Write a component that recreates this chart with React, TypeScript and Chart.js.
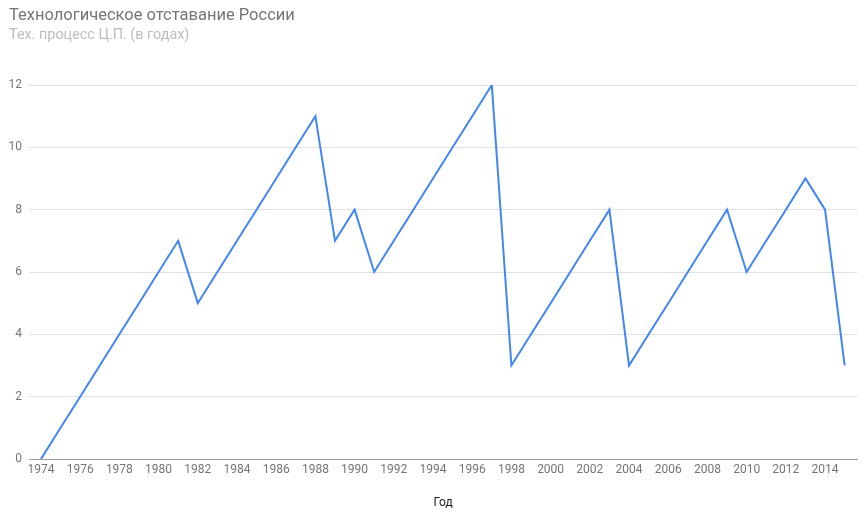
import React, { useEffect, useRef } from "react";
import { Chart, registerables } from "chart.js";

Chart.register(...registerables);

const titleText = "Технологическое отставание России";
const subtitleText = "Тех. процесс Ц.П. (в годах)";
const xAxisTitle = "Год";
const years = [
  1974, 1975, 1976, 1977, 1978, 1979, 1980, 1981, 1982, 1983, 1984, 1985, 1986, 1987,
  1988, 1989, 1990, 1991, 1992, 1993, 1994, 1995, 1996, 1997, 1998, 1999, 2000, 2001,
  2002, 2003, 2004, 2005, 2006, 2007, 2008, 2009, 2010, 2011, 2012, 2013, 2014, 2015,
];
const lag = [
  0, 1, 2, 3, 4, 5, 6, 7, 5, 6, 7, 8, 9, 10,
  11, 7, 8, 6, 7, 8, 9, 10, 11, 12, 3, 4, 5, 6,
  7, 8, 3, 4, 5, 6, 7, 8, 6, 7, 8, 9, 8, 3,
];
const xTicks = [1974, 1976, 1978, 1980, 1982, 1984, 1986, 1988, 1990, 1992, 1994, 1996, 1998, 2000, 2002, 2004, 2006, 2008, 2010, 2012, 2014];
const yTicks = [0, 2, 4, 6, 8, 10, 12];

const FONT = "Roboto, 'Noto Sans', Arial, sans-serif";

const headerPlugin = {
  id: "header",
  afterDraw(chart: any) {
    const ctx = chart.ctx;
    ctx.save();
    ctx.textAlign = "left";
    ctx.textBaseline = "middle";
    ctx.fillStyle = "#757575";
    ctx.font = `16.5px ${FONT}`;
    ctx.fillText(titleText, 9, 16);
    ctx.fillStyle = "#bdbdbd";
    ctx.font = `14.4px ${FONT}`;
    ctx.fillText(subtitleText, 9, 35);
    ctx.restore();
  },
};

export default function App() {
  const ref = useRef<HTMLCanvasElement>(null);
  useEffect(() => {
    if (!ref.current) return;
    const chart = new Chart(ref.current, {
      type: "line",
      data: {
        datasets: [
          {
            data: years.map((y, i) => ({ x: y, y: lag[i] })),
            borderColor: "#4285f4",
            backgroundColor: "#4285f4",
            borderWidth: 2,
            pointRadius: 0,
            tension: 0,
          },
        ],
      },
      options: {
        animation: false,
        responsive: false,
        devicePixelRatio: 1,
        layout: { padding: { top: 85, right: 7, left: 0, bottom: 0 } },
        plugins: { legend: { display: false }, tooltip: { enabled: false }, title: { display: false } },
        scales: {
          x: {
            type: "linear",
            min: 1973.39,
            max: 2015.63,
            grid: { display: false, drawTicks: false },
            border: { display: true, color: "#9e9e9e", width: 1 },
            afterBuildTicks(scale: any) {
              scale.ticks = xTicks.map((v) => ({ value: v }));
            },
            afterFit(scale: any) {
              scale.height = 55;
            },
            ticks: {
              color: "#757575",
              font: { family: FONT, size: 12 },
              padding: 4,
              maxRotation: 0,
              autoSkip: false,
              callback: (v: any) => String(v),
            },
            title: {
              display: true,
              text: xAxisTitle,
              color: "#222222",
              font: { family: FONT, size: 12 },
              padding: { top: 0, bottom: 4 },
            },
          },
          y: {
            min: 0,
            max: 12,
            afterBuildTicks(scale: any) {
              scale.ticks = yTicks.map((v) => ({ value: v }));
            },
            afterFit(scale: any) {
              scale.width = 29;
            },
            grid: {
              color: (c: any) => (c.tick && c.tick.value === 0 ? "#9e9e9e" : "#e0e0e0"),
              drawTicks: false,
            },
            border: { display: false },
            ticks: {
              color: "#757575",
              font: { family: FONT, size: 12 },
              padding: 7,
            },
          },
        },
      },
      plugins: [headerPlugin],
    });
    return () => chart.destroy();
  }, []);
  return (
    <div style={{ position: "fixed", left: 0, top: 0, width: 864, height: 514, background: "#fff" }}>
      <canvas ref={ref} width={864} height={514} style={{ width: 864, height: 514 }} />
    </div>
  );
}
